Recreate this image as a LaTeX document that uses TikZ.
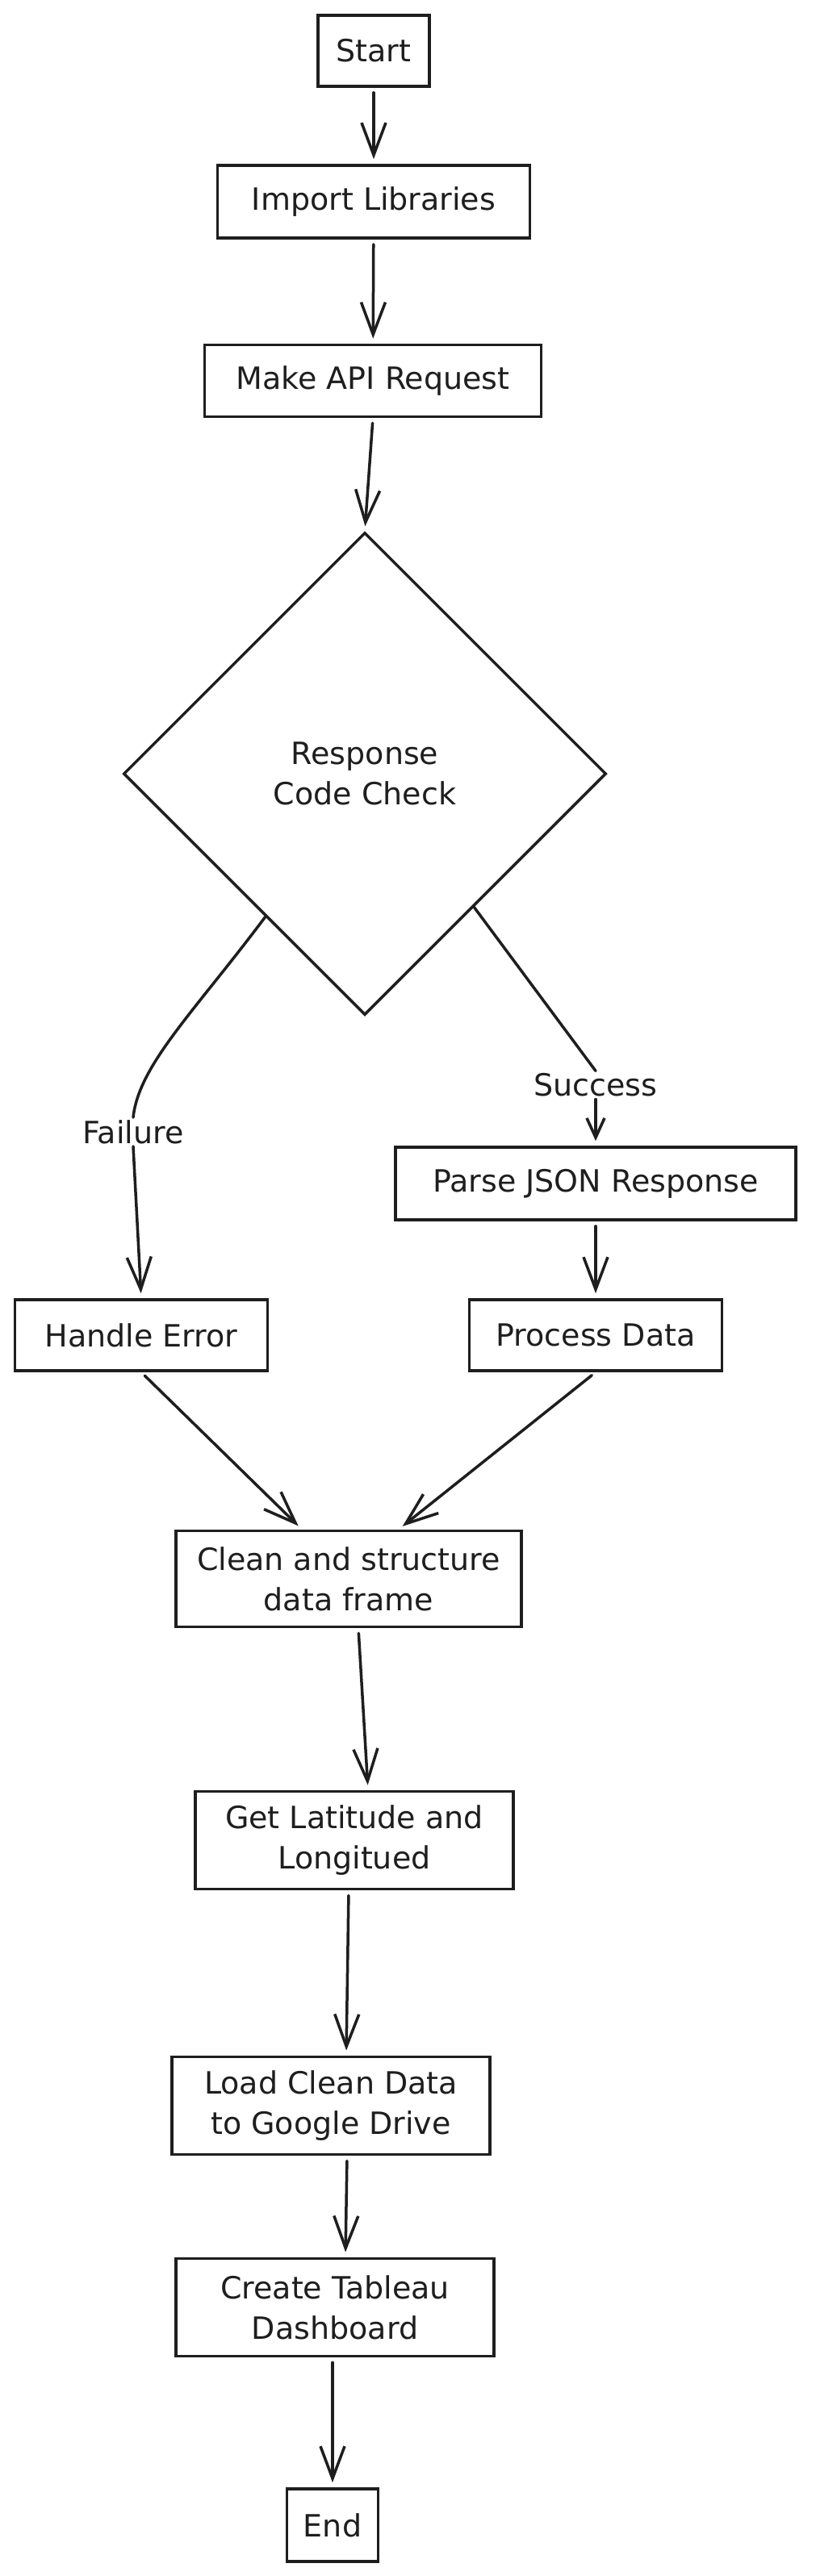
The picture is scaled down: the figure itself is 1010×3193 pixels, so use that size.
\documentclass[tikz,border=0pt]{standalone}
\usepackage{fontspec}
\setmainfont{DejaVu Sans}
\usetikzlibrary{shapes.geometric,arrows.meta,calc}
\definecolor{ink}{HTML}{1E1E1E}
\begin{document}
\begin{tikzpicture}[x=1pt,y=1pt,
  box/.style={draw=ink, line width=3.8pt, fill=white, align=center, inner sep=0pt,
    font=\fontsize{38}{50}\selectfont, text=ink},
  lbl/.style={fill=white, inner sep=3pt, font=\fontsize{38}{50}\selectfont, text=ink},
  conn/.style={draw=ink, line width=3.5pt, line cap=round, shorten <=6pt},
  arr/.style={conn, shorten >=6pt, -{Straight Barb[length=40pt,width=30pt]}},
  arrsmall/.style={conn, shorten >=6pt, -{Straight Barb[length=24pt,width=22pt]}},
]
\useasboundingbox (0,0) rectangle (1010,-3193);
\fill[white] (0,0) rectangle (1010,-3193);

\node[box, minimum width=138, minimum height=88] (start) at (463,-63) {Start};
\node[box, minimum width=387, minimum height=90] (imp) at (463,-250) {Import Libraries};
\node[box, minimum width=417, minimum height=89] (api) at (462,-472) {Make API Request};
\node[draw=ink, line width=3.5pt, diamond, minimum width=598, minimum height=598, inner sep=0pt,
  align=center, font=\fontsize{38}{50}\selectfont, text=ink] (dec) at (452,-959) {Response\\Code Check};
\node[box, minimum width=496, minimum height=90] (parse) at (738,-1467) {Parse JSON Response};
\node[box, minimum width=313, minimum height=88] (he) at (175,-1655) {Handle Error};
\node[box, minimum width=313, minimum height=88] (pd) at (738,-1655) {Process Data};
\node[box, minimum width=428, minimum height=119] (cl) at (432,-1957) {Clean and structure\\data frame};
\node[box, minimum width=394, minimum height=121] (gl) at (439,-2281) {Get Latitude and\\Longitued};
\node[box, minimum width=394, minimum height=121] (ld) at (410,-2610) {Load Clean Data\\to Google Drive};
\node[box, minimum width=394, minimum height=121] (cr) at (415,-2860) {Create Tableau\\Dashboard};
\node[box, minimum width=113, minimum height=90] (en) at (412,-3130) {End};

\node[lbl] (fail) at (165,-1403) {Failure};
\node[lbl] (succ) at (738,-1345) {Success};

\draw[arr] (start) -- (imp);
\draw[arr] (imp) -- (api);
\draw[arr] (api.south) -- (dec.north);

\coordinate (fs) at ($(dec.west)!0.59!(dec.south)$);
\coordinate (ss) at ($(dec.east)!0.55!(dec.south)$);
\draw[conn, shorten <=0pt] (fs) .. controls (240,-1255) and (172,-1320) .. (fail.north);
\draw[arr, shorten <=0pt] (fail.south) -- (he.north);
\draw[conn, shorten <=0pt] (ss) -- (succ.north);
\draw[arrsmall, shorten <=0pt] (succ.south) -- (parse.north);
\draw[arr] (parse) -- (pd);

\draw[arr] (he.south) -- ([xshift=-58pt]cl.north);
\draw[arr] (pd.south) -- ([xshift=62pt]cl.north);
\draw[arr] ([xshift=12pt]cl.south) -- ([xshift=17pt]gl.north);
\draw[arr] ([xshift=-7pt]gl.south) -- ([xshift=19pt]ld.north);
\draw[arr] ([xshift=20pt]ld.south) -- ([xshift=13pt]cr.north);
\draw[arr] ([xshift=-3pt]cr.south) -- (en.north);
\end{tikzpicture}
\end{document}
